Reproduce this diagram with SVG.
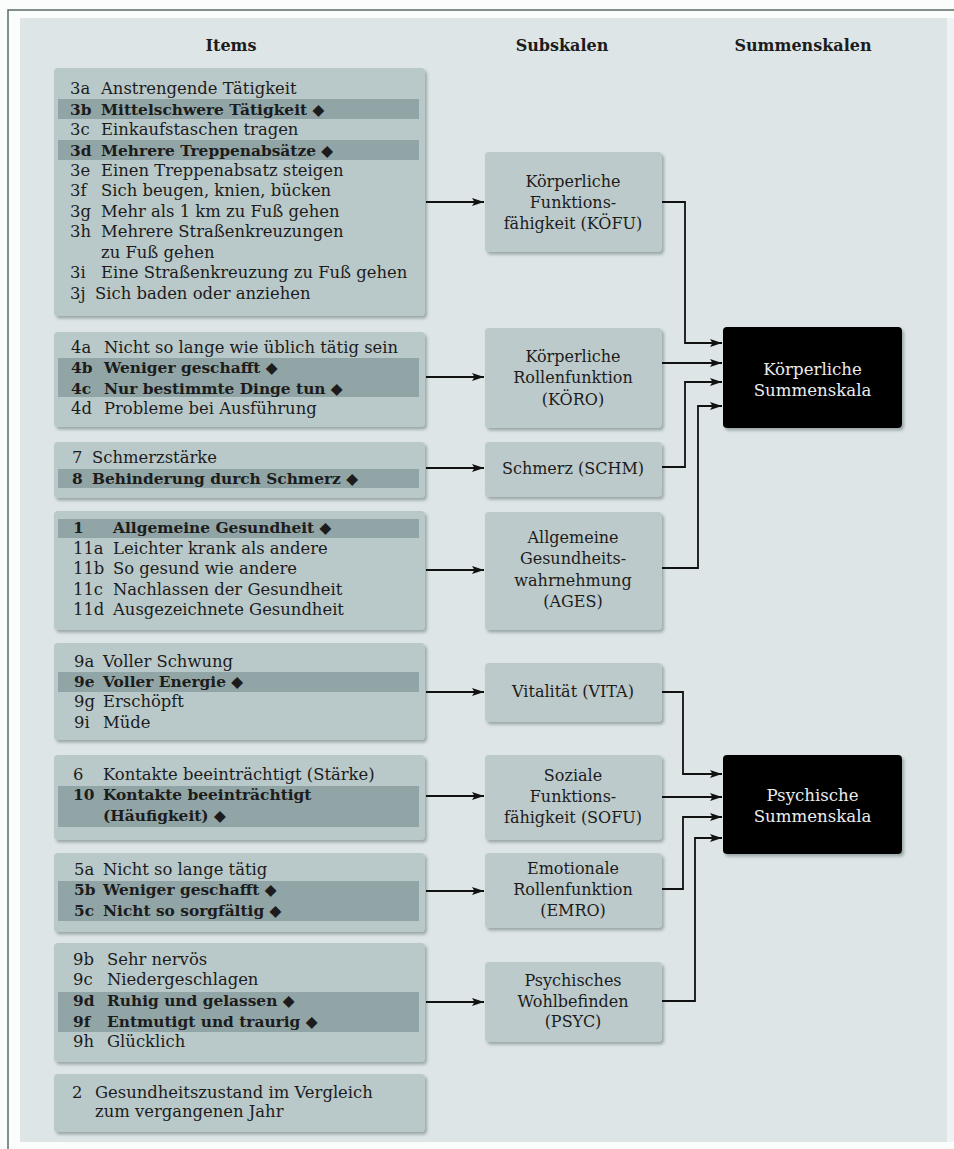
<svg xmlns="http://www.w3.org/2000/svg" width="954" height="1149" viewBox="0 0 954 1149">
<style>
.t{font-family:"DejaVu Serif","Liberation Serif",serif;font-size:16.4px;fill:#1c1c1c}
.b{font-weight:bold;font-size:15.4px}
.h{font-family:"DejaVu Serif","Liberation Serif",serif;font-size:16px;font-weight:bold;fill:#1c1c1c;text-anchor:middle}
.c{text-anchor:middle;font-size:16px}
.w{font-family:"DejaVu Serif","Liberation Serif",serif;font-size:16.6px;fill:#ececec;text-anchor:middle}
.box{fill:#b9c8c9}
.bar{fill:#91a5a6}
.sub{fill:#bccacb}
.sum{fill:#050505}
.ln{fill:none;stroke:#111;stroke-width:1.8}
</style>
<defs>
<filter id="sh" x="-10%" y="-10%" width="120%" height="130%">
<feDropShadow dx="2" dy="2.5" stdDeviation="1.5" flood-color="#4a5a5c" flood-opacity="0.45"/>
</filter>
<marker id="ah" markerUnits="userSpaceOnUse" markerWidth="12" markerHeight="8" refX="12" refY="4" orient="auto">
<path d="M0,0 L12,4 L0,8 L2.5,4 z" fill="#111"/>
</marker>
</defs>
<rect x="0" y="0" width="954" height="1149" fill="#fbfcfc"/>
<rect x="20" y="18" width="927" height="1124" fill="#dde5e6"/>
<rect x="947" y="18" width="7" height="1124" fill="#eef2f2"/>
<path d="M8,1149 V10 H954" fill="none" stroke="#5b6d60" stroke-width="1.5"/>

<g id="headers">
<text class="h" x="231" y="51">Items</text>
<text class="h" x="562" y="51">Subskalen</text>
<text class="h" x="803" y="51">Summenskalen</text>
</g>

<g id="items-koefu">
<rect class="box" x="54" y="68" width="371" height="248" rx="4" filter="url(#sh)"/>
<rect class="bar" x="58" y="99" width="361" height="20"/>
<rect class="bar" x="58" y="140" width="361" height="20"/>
<text class="t" x="70" y="94">3a</text><text class="t" x="101" y="94">Anstrengende Tätigkeit</text>
<text class="t b" x="70" y="115">3b</text><text class="t b" x="101" y="115">Mittelschwere Tätigkeit ◆</text>
<text class="t" x="70" y="135">3c</text><text class="t" x="101" y="135">Einkaufstaschen tragen</text>
<text class="t b" x="70" y="156">3d</text><text class="t b" x="101" y="156">Mehrere Treppenabsätze ◆</text>
<text class="t" x="70" y="176">3e</text><text class="t" x="101" y="176">Einen Treppenabsatz steigen</text>
<text class="t" x="70" y="196">3f</text><text class="t" x="101" y="196">Sich beugen, knien, bücken</text>
<text class="t" x="70" y="217">3g</text><text class="t" x="101" y="217">Mehr als 1 km zu Fuß gehen</text>
<text class="t" x="70" y="237">3h</text><text class="t" x="101" y="237">Mehrere Straßenkreuzungen</text>
<text class="t" x="101" y="258">zu Fuß gehen</text>
<text class="t" x="70" y="278">3i</text><text class="t" x="101" y="278">Eine Straßenkreuzung zu Fuß gehen</text>
<text class="t" x="70" y="299">3j</text><text class="t" x="95" y="299">Sich baden oder anziehen</text>
</g>

<g id="items-koero">
<rect class="box" x="54" y="332" width="371" height="95" rx="4" filter="url(#sh)"/>
<rect class="bar" x="58" y="358" width="361" height="39"/>
<text class="t" x="71" y="353">4a</text><text class="t" x="104" y="353">Nicht so lange wie üblich tätig sein</text>
<text class="t b" x="71" y="373">4b</text><text class="t b" x="104" y="373">Weniger geschafft ◆</text>
<text class="t b" x="71" y="394">4c</text><text class="t b" x="104" y="394">Nur bestimmte Dinge tun ◆</text>
<text class="t" x="71" y="414">4d</text><text class="t" x="104" y="414">Probleme bei Ausführung</text>
</g>

<g id="items-schm">
<rect class="box" x="54" y="442" width="371" height="56" rx="4" filter="url(#sh)"/>
<rect class="bar" x="58" y="469" width="361" height="19"/>
<text class="t" x="72" y="463">7</text><text class="t" x="92" y="463">Schmerzstärke</text>
<text class="t b" x="72" y="484">8</text><text class="t b" x="92" y="484">Behinderung durch Schmerz ◆</text>
</g>

<g id="items-ages">
<rect class="box" x="54" y="511" width="371" height="119" rx="4" filter="url(#sh)"/>
<rect class="bar" x="58" y="519" width="361" height="19"/>
<text class="t b" x="73" y="533">1</text><text class="t b" x="113" y="533">Allgemeine Gesundheit ◆</text>
<text class="t" x="73" y="554">11a</text><text class="t" x="113" y="554">Leichter krank als andere</text>
<text class="t" x="73" y="574">11b</text><text class="t" x="113" y="574">So gesund wie andere</text>
<text class="t" x="73" y="595">11c</text><text class="t" x="113" y="595">Nachlassen der Gesundheit</text>
<text class="t" x="73" y="615">11d</text><text class="t" x="113" y="615">Ausgezeichnete Gesundheit</text>
</g>

<g id="items-vita">
<rect class="box" x="54" y="643" width="371" height="97" rx="4" filter="url(#sh)"/>
<rect class="bar" x="58" y="672" width="361" height="20"/>
<text class="t" x="74" y="667">9a</text><text class="t" x="103" y="667">Voller Schwung</text>
<text class="t b" x="74" y="687">9e</text><text class="t b" x="103" y="687">Voller Energie ◆</text>
<text class="t" x="74" y="707">9g</text><text class="t" x="103" y="707">Erschöpft</text>
<text class="t" x="74" y="728">9i</text><text class="t" x="103" y="728">Müde</text>
</g>

<g id="items-sofu">
<rect class="box" x="54" y="755" width="371" height="85" rx="4" filter="url(#sh)"/>
<rect class="bar" x="58" y="786" width="361" height="41"/>
<text class="t" x="73" y="780">6</text><text class="t" x="103" y="780">Kontakte beeinträchtigt (Stärke)</text>
<text class="t b" x="73" y="800">10</text><text class="t b" x="103" y="800">Kontakte beeinträchtigt</text>
<text class="t b" x="103" y="821">(Häufigkeit) ◆</text>
</g>

<g id="items-emro">
<rect class="box" x="54" y="853" width="371" height="79" rx="4" filter="url(#sh)"/>
<rect class="bar" x="58" y="881" width="361" height="40"/>
<text class="t" x="74" y="875">5a</text><text class="t" x="103" y="875">Nicht so lange tätig</text>
<text class="t b" x="74" y="895">5b</text><text class="t b" x="103" y="895">Weniger geschafft ◆</text>
<text class="t b" x="74" y="916">5c</text><text class="t b" x="103" y="916">Nicht so sorgfältig ◆</text>
</g>

<g id="items-psyc">
<rect class="box" x="54" y="943" width="371" height="119" rx="4" filter="url(#sh)"/>
<rect class="bar" x="58" y="992" width="361" height="40"/>
<text class="t" x="73" y="965">9b</text><text class="t" x="107" y="965">Sehr nervös</text>
<text class="t" x="73" y="985">9c</text><text class="t" x="107" y="985">Niedergeschlagen</text>
<text class="t b" x="73" y="1006">9d</text><text class="t b" x="107" y="1006">Ruhig und gelassen ◆</text>
<text class="t b" x="73" y="1027">9f</text><text class="t b" x="107" y="1027">Entmutigt und traurig ◆</text>
<text class="t" x="73" y="1047">9h</text><text class="t" x="107" y="1047">Glücklich</text>
</g>

<g id="items-2">
<rect class="box" x="54" y="1074" width="371" height="58" rx="4" filter="url(#sh)"/>
<text class="t" x="72" y="1098">2</text><text class="t" x="95" y="1098">Gesundheitszustand im Vergleich</text>
<text class="t" x="95" y="1117">zum vergangenen Jahr</text>
</g>

<g id="sub-koefu">
<rect class="sub" x="485" y="152" width="177" height="100" rx="4" filter="url(#sh)"/>
<text class="t c" x="573" y="187">Körperliche</text>
<text class="t c" x="573" y="208">Funktions-</text>
<text class="t c" x="573" y="229">fähigkeit (KÖFU)</text>
</g>
<g id="sub-koero">
<rect class="sub" x="485" y="328" width="177" height="100" rx="4" filter="url(#sh)"/>
<text class="t c" x="573" y="362">Körperliche</text>
<text class="t c" x="573" y="383">Rollenfunktion</text>
<text class="t c" x="573" y="405">(KÖRO)</text>
</g>
<g id="sub-schm">
<rect class="sub" x="485" y="442" width="177" height="55" rx="4" filter="url(#sh)"/>
<text class="t c" x="573" y="474">Schmerz (SCHM)</text>
</g>
<g id="sub-ages">
<rect class="sub" x="485" y="512" width="177" height="118" rx="4" filter="url(#sh)"/>
<text class="t c" x="573" y="543">Allgemeine</text>
<text class="t c" x="573" y="564">Gesundheits-</text>
<text class="t c" x="573" y="586">wahrnehmung</text>
<text class="t c" x="573" y="607">(AGES)</text>
</g>
<g id="sub-vita">
<rect class="sub" x="485" y="663" width="177" height="59" rx="4" filter="url(#sh)"/>
<text class="t c" x="573" y="697">Vitalität (VITA)</text>
</g>
<g id="sub-sofu">
<rect class="sub" x="485" y="755" width="177" height="85" rx="4" filter="url(#sh)"/>
<text class="t c" x="573" y="781">Soziale</text>
<text class="t c" x="573" y="802">Funktions-</text>
<text class="t c" x="573" y="823">fähigkeit (SOFU)</text>
</g>
<g id="sub-emro">
<rect class="sub" x="485" y="853" width="177" height="75" rx="4" filter="url(#sh)"/>
<text class="t c" x="573" y="874">Emotionale</text>
<text class="t c" x="573" y="895">Rollenfunktion</text>
<text class="t c" x="573" y="916">(EMRO)</text>
</g>
<g id="sub-psyc">
<rect class="sub" x="485" y="962" width="177" height="80" rx="4" filter="url(#sh)"/>
<text class="t c" x="573" y="986">Psychisches</text>
<text class="t c" x="573" y="1007">Wohlbefinden</text>
<text class="t c" x="573" y="1027">(PSYC)</text>
</g>

<g id="sum-koerper">
<rect class="sum" x="723" y="327" width="179" height="101" rx="4" filter="url(#sh)"/>
<text class="w" x="812.5" y="375">Körperliche</text>
<text class="w" x="812.5" y="396">Summenskala</text>
</g>
<g id="sum-psych">
<rect class="sum" x="723" y="755" width="179" height="99" rx="4" filter="url(#sh)"/>
<text class="w" x="812.5" y="801">Psychische</text>
<text class="w" x="812.5" y="822">Summenskala</text>
</g>

<g id="connectors">
<path class="ln" marker-end="url(#ah)" d="M426,202 H484"/>
<path class="ln" marker-end="url(#ah)" d="M426,377 H484"/>
<path class="ln" marker-end="url(#ah)" d="M426,468 H484"/>
<path class="ln" marker-end="url(#ah)" d="M426,570 H484"/>
<path class="ln" marker-end="url(#ah)" d="M426,692 H484"/>
<path class="ln" marker-end="url(#ah)" d="M426,796 H484"/>
<path class="ln" marker-end="url(#ah)" d="M426,891 H484"/>
<path class="ln" marker-end="url(#ah)" d="M426,1002 H484"/>
<path class="ln" marker-end="url(#ah)" d="M662,202 H685 V343 H722"/>
<path class="ln" marker-end="url(#ah)" d="M662,363 H722"/>
<path class="ln" marker-end="url(#ah)" d="M662,467 H685 V382 H722"/>
<path class="ln" marker-end="url(#ah)" d="M662,568 H698 V406 H722"/>
<path class="ln" marker-end="url(#ah)" d="M662,692 H683 V774 H722"/>
<path class="ln" marker-end="url(#ah)" d="M662,797 H722"/>
<path class="ln" marker-end="url(#ah)" d="M662,889 H683 V817 H722"/>
<path class="ln" marker-end="url(#ah)" d="M662,1001 H695 V838 H722"/>
</g>
</svg>
